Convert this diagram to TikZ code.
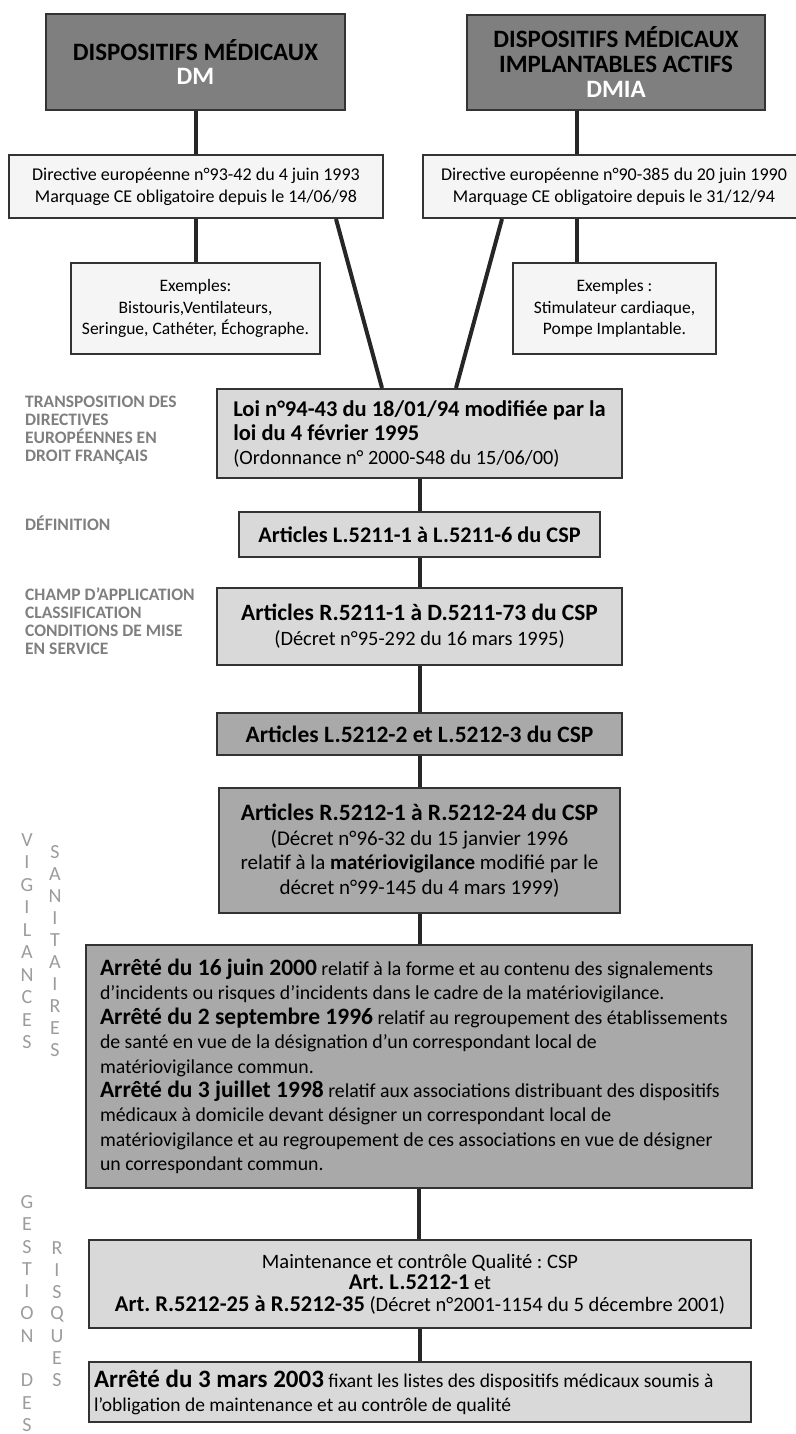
\documentclass[tikz,border=0pt]{standalone}
\usepackage{fontspec}
\setmainfont{Carlito}
\usepackage{tikz}
\usetikzlibrary{positioning,calc}

\definecolor{darkbox}{HTML}{7F7F7F}
\definecolor{midbox}{HTML}{A9A9A9}
\definecolor{lightbox}{HTML}{D9D9D9}
\definecolor{paperbox}{HTML}{F5F5F5}
\definecolor{edge}{HTML}{333333}
\definecolor{wire}{HTML}{262626}
\definecolor{labelgray}{HTML}{7F7F7F}
\definecolor{lettergray}{HTML}{9C9C9C}

% bold words set a little larger
\newcommand{\boldat}[2]{{\fontsize{#1}{24}\selectfont\bfseries #2}}
\frenchspacing

\begin{document}
\begin{tikzpicture}[x=1pt, y=-1pt,
  box/.style={draw=edge, line width=2pt, inner sep=0pt, align=center},
  link/.style={draw=wire, line width=4pt},
  sidelabel/.style={anchor=west, align=left, inner sep=0pt, text=labelgray, font=\fontsize{17.5}{18}\selectfont\bfseries},
  letter/.style={inner sep=0pt, text=lettergray, font=\fontsize{20}{20}\selectfont}]
\useasboundingbox (0,0) rectangle (795,1434);

% the two families of devices
\node[box, fill=darkbox, minimum width=299, minimum height=96, font=\fontsize{25}{24}\selectfont\bfseries] (dm) at (195.5,62)
  {DISPOSITIFS MÉDICAUX\\\textcolor{white}{DM}};
\node[box, fill=darkbox, minimum width=298, minimum height=95, font=\fontsize{25}{25}\selectfont\bfseries] (dmia) at (616,62.5)
  {DISPOSITIFS MÉDICAUX\\IMPLANTABLES ACTIFS\\\textcolor{white}{DMIA}};

\node[box, fill=paperbox, minimum width=374, minimum height=63, font=\fontsize{18}{22}\selectfont] (dirdm) at (196,186.5)
  {Directive européenne n°93-42 du 4 juin 1993\\Marquage CE obligatoire depuis le 14/06/98};
\node[box, fill=paperbox, minimum width=382, minimum height=63, font=\fontsize{18}{22}\selectfont] (dirdmia) at (614,186.5)
  {Directive européenne n°90-385 du 20 juin 1990\\Marquage CE obligatoire depuis le 31/12/94};

\node[box, fill=paperbox, minimum width=249, minimum height=91, font=\fontsize{17.5}{21.5}\selectfont] (exdm) at (195.5,308.5)
  {Exemples:\\Bistouris,Ventilateurs,\\Seringue, Cathéter, Échographe.};
\node[box, fill=paperbox, minimum width=203, minimum height=91, font=\fontsize{17.5}{21.5}\selectfont] (exdmia) at (614.5,308.5)
  {Exemples :\\Stimulateur cardiaque,\\Pompe Implantable.};

% the French texts, one under the other
\node[box, fill=lightbox, minimum width=405, minimum height=89, align=flush left, font=\fontsize{20.3}{24}\selectfont] (loi) at (419.5,433.5)
  {\boldat{22.5}{Loi n°94-43 du 18/01/94 modifiée par la}\\\boldat{22.5}{loi du 4 février 1995}\\(Ordonnance n° 2000-S48 du 15/06/00)};
\node[box, fill=lightbox, minimum width=361, minimum height=45, font=\fontsize{22.3}{24}\selectfont\bfseries] (defart) at (419.5,534.5)
  {Articles L.5211-1 à L.5211-6 du CSP};
\node[box, fill=lightbox, minimum width=405, minimum height=77, font=\fontsize{20.4}{25}\selectfont] (champart) at (419.5,626.5)
  {\boldat{23.4}{Articles R.5211-1 à D.5211-73 du CSP}\\(Décret n°95-292 du 16 mars 1995)};
\node[box, fill=midbox, minimum width=405, minimum height=42, font=\fontsize{23.5}{24}\selectfont\bfseries] (lart) at (419.5,734)
  {Articles L.5212-2 et L.5212-3 du CSP};
\node[box, fill=midbox, minimum width=401, minimum height=125, font=\fontsize{21}{24.5}\selectfont] (rart) at (419.5,850.5)
  {\boldat{23.5}{Articles R.5212-1 à R.5212-24 du CSP}\\(Décret n°96-32 du 15 janvier 1996\\relatif à la \textbf{matériovigilance} modifié par le\\décret n°99-145 du 4 mars 1999)};
\node[box, fill=midbox, minimum width=666, minimum height=243, inner xsep=14, text width=638, align=flush left, font=\fontsize{19.8}{24.4}\selectfont] (arretes) at (419,1066.5)
  {\boldat{23.5}{Arrêté du 16 juin 2000} relatif à la forme et au contenu des signalements\\
   d'incidents ou risques d'incidents dans le cadre de la matériovigilance.\\
   \boldat{23.5}{Arrêté du 2 septembre 1996} relatif au regroupement des établissements\\
   de santé en vue de la désignation d'un correspondant local de\\
   matériovigilance commun.\\
   \boldat{23.5}{Arrêté du 3 juillet 1998} relatif aux associations distribuant des dispositifs\\
   médicaux à domicile devant désigner un correspondant local de\\
   matériovigilance et au regroupement de ces associations en vue de désigner\\
   un correspondant commun.};
\node[box, fill=lightbox, minimum width=662, minimum height=88, font=\fontsize{20.5}{21.5}\selectfont] (maint) at (420,1284)
  {Maintenance et contrôle Qualité : CSP\\\boldat{22.5}{Art. L.5212-1} et\\\boldat{22.5}{Art. R.5212-25 à R.5212-35} (Décret n°2001-1154 du 5 décembre 2001)};
\node[box, fill=lightbox, minimum width=662, minimum height=60, inner xsep=5, text width=652, align=flush left, font=\fontsize{19.5}{24}\selectfont] (arr2003) at (420,1392)
  {\boldat{25}{Arrêté du 3 mars 2003} fixant les listes des dispositifs médicaux soumis à\\l'obligation de maintenance et au contrôle de qualité};

% labels on the left
\node[sidelabel] (transp) at (25,430)
  {TRANSPOSITION DES\\DIRECTIVES\\EUROPÉENNES EN\\DROIT FRANÇAIS};
\node[sidelabel] (defin) at (25,523) {DÉFINITION};
\node[sidelabel] (champ) at (25,621.5)
  {CHAMP D'APPLICATION\\CLASSIFICATION\\CONDITIONS DE MISE\\EN SERVICE};

% words written downwards
\foreach \c [count=\i] in {V,I,G,I,L,A,N,C,E,S}
  \node[letter] (vig\i) at (27,{840+(\i-1)*22.5}) {\c};
\foreach \c [count=\i] in {S,A,N,I,T,A,I,R,E,S}
  \node[letter] (san\i) at (55,{852+(\i-1)*22}) {\c};
\foreach \c [count=\i] in {G,E,S,T,I,O,N,{},D,E,S}
  \node[letter] (ges\i) at (27,{1202+(\i-1)*22.3}) {\c};
\foreach \c [count=\i] in {R,I,S,Q,U,E,S}
  \node[letter] (ris\i) at (57,{1248+(\i-1)*22}) {\c};

% connectors
\coordinate (dmiaaxis) at (577,0);
\draw[link] (dm.south) -- (dm.south |- dirdm.north);
\draw[link] (dirdm.south) -- (dirdm.south |- exdm.north);
\draw[link] (dmia.south -| dmiaaxis) -- (dirdmia.north -| dmiaaxis);
\draw[link] (dirdmia.south -| dmiaaxis) -- (exdmia.north -| dmiaaxis);
\draw[link] ($(dirdm.south east)+(-48,0)$) -- ($(loi.north west)+(166,0)$);
\draw[link] ($(dirdmia.south west)+(80,0)$) -- ($(loi.north east)+(-167,0)$);
\draw[link] (loi) -- (defart);
\draw[link] (defart) -- (champart);
\draw[link] (champart) -- (lart);
\draw[link] (lart) -- (rart);
\draw[link] (rart.south) -- (rart.south |- arretes.north);
\draw[link] (arretes.south) -- (arretes.south |- maint.north);
\draw[link] (maint) -- (arr2003);
\end{tikzpicture}
\end{document}
